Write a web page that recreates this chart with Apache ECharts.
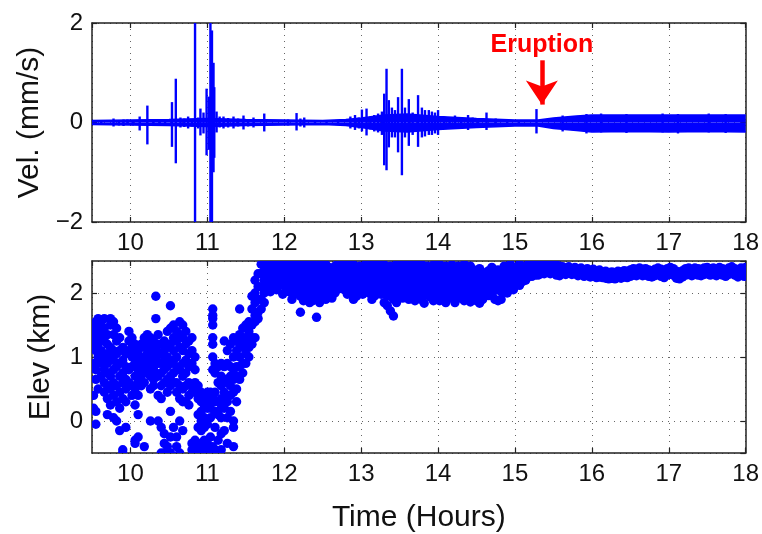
<!DOCTYPE html>
<html><head><meta charset="utf-8">
<script src="https://cdn.jsdelivr.net/npm/echarts@6/dist/echarts.min.js"></script>
<style>html,body{margin:0;padding:0;background:#fff}#c{width:762px;height:534px}</style>
</head><body><div id="c"></div>
<script>
// ---------- data ----------
const timeRange = [9.5, 18];
const velRange = [-2, 2];
const elevRange = [-0.5, 2.5];
const eruptionTime = 15.35;
const eruptionLabel = 'Eruption';
const xTitle = 'Time (Hours)';
const velTitle = 'Vel. (mm/s)';
const elevTitle = 'Elev (km)';

// background noise envelope of the velocity trace
const noiseT  = [9.5, 10.0, 10.5, 11.0, 11.5, 12.0, 12.5, 12.8, 13.0, 13.3, 13.6, 14.0, 14.5, 15.0, 15.3, 15.5, 15.8, 16.0, 16.5, 17.0, 17.5, 18.0];
const noiseHi = [0.04, 0.05, 0.06, 0.08, 0.06, 0.05, 0.04, 0.06, 0.09, 0.15, 0.17, 0.12, 0.08, 0.05, 0.05, 0.09, 0.13, 0.15, 0.15, 0.15, 0.15, 0.15];
const noiseLo = [-0.04, -0.05, -0.06, -0.08, -0.06, -0.05, -0.04, -0.06, -0.1, -0.17, -0.19, -0.14, -0.1, -0.07, -0.07, -0.12, -0.16, -0.19, -0.18, -0.19, -0.18, -0.19];

// velocity spikes: [time, max, min]
const velSpikes = [
  [9.62,0.05,-0.05],[9.78,0.08,-0.08],[9.85,0.05,-0.06],[9.91,0.06,-0.07],[9.96,0.06,-0.05],
  [10.03,0.05,-0.06],[10.12,0.12,-0.16],[10.22,0.34,-0.44],[10.30,0.06,-0.06],[10.38,0.05,-0.07],
  [10.45,0.06,-0.06],[10.54,0.41,-0.49],[10.59,0.88,-0.82],[10.65,0.10,-0.10],[10.70,0.08,-0.09],
  [10.75,0.12,-0.12],[10.80,0.06,-0.08],[10.84,2.5,-2.5],[10.88,0.10,-0.12],[10.91,0.28,-0.26],
  [10.95,0.20,-0.22],[10.99,0.68,-0.66],[11.02,0.52,-0.55],[11.04,2.5,-2.5],[11.06,1.85,-2.5],
  [11.08,1.2,-1.0],[11.09,0.71,-0.71],[11.12,0.22,-0.2],[11.16,0.12,-0.1],[11.21,0.12,-0.12],
  [11.27,0.09,-0.1],[11.34,0.12,-0.12],[11.40,0.08,-0.08],[11.47,0.14,-0.14],[11.53,0.07,-0.08],
  [11.60,0.10,-0.10],[11.74,0.18,-0.18],[12.05,0.06,-0.06],[12.16,0.19,-0.16],[12.21,0.08,-0.08],
  [12.26,0.10,-0.10],[12.40,0.05,-0.05],[12.55,0.05,-0.05],[12.70,0.05,-0.05],[12.86,0.12,-0.12],
  [12.92,0.15,-0.15],[12.97,0.10,-0.12],[13.01,0.26,-0.18],[13.07,0.28,-0.26],[13.12,0.12,-0.14],
  [13.17,0.15,-0.18],[13.22,0.18,-0.2],[13.27,0.22,-0.25],[13.30,0.58,-0.86],[13.33,1.08,-0.96],
  [13.36,0.45,-0.5],[13.40,0.3,-0.3],[13.44,0.25,-0.3],[13.48,0.51,-0.6],[13.53,1.08,-1.06],
  [13.57,0.3,-0.3],[13.62,0.47,-0.47],[13.67,0.2,-0.25],[13.74,0.55,-0.49],[13.79,0.3,-0.3],
  [13.83,0.25,-0.28],[13.88,0.25,-0.25],[13.92,0.22,-0.25],[13.96,0.2,-0.22],[14.00,0.25,-0.25],
  [14.08,0.12,-0.12],[14.15,0.1,-0.1],[14.22,0.14,-0.12],[14.30,0.1,-0.1],[14.39,0.15,-0.15],
  [14.45,0.1,-0.1],[14.52,0.08,-0.1],[14.63,0.2,-0.15],[14.75,0.08,-0.08],[14.90,0.06,-0.06],
  [15.05,0.05,-0.05],[15.28,0.27,-0.22],[15.62,0.14,-0.18],[15.93,0.17,-0.22],[16.12,0.18,-0.2],
  [16.45,0.17,-0.21],[16.92,0.18,-0.2],[17.12,0.17,-0.22],[17.52,0.18,-0.2],[17.74,0.17,-0.21]
];

// elevation points, as columns [time, elev, elev, ...]
const elevBefore = [
  [9.52,1.5,1.4,1.2,0.9,0.85,0.4,0.2],[9.55,1.55,1.45,1.3,1.1,0.8,0.65,0.15,-0.05],
  [9.58,1.6,1.5,1.35,1.2,1.0,0.5],[9.62,1.55,1.4,1.25,1.1,0.9,0.7],
  [9.66,1.6,1.45,1.3,1.0,0.8,0.6,0.45],[9.70,1.35,1.2,1.05,0.9,0.75,0.55,0.35,0.1],
  [9.74,1.6,1.5,1.15,1.0,0.7,0.5,0.25],[9.78,1.55,1.35,1.1,0.95,0.8,0.6,0.4,0.05],
  [9.82,1.45,1.25,1.05,0.85,0.55,0.3,0.0],[9.86,1.3,1.1,0.9,0.7,0.45,0.2,-0.15],
  [9.90,1.15,0.95,0.75,0.6,0.35,-0.45,-0.5],[9.94,1.05,0.85,0.65,0.5,0.3,-0.1],
  [9.98,1.4,1.25,1.1,0.8,0.6],[10.02,1.3,1.15,1.0,0.85,0.55,0.4],
  [10.06,1.2,1.05,0.9,0.7,0.5,0.25,-0.3,-0.35],[10.10,1.1,0.95,0.8,0.6,0.4,0.1,-0.25],
  [10.14,1.2,1.0,0.85,0.7,0.55],[10.18,1.3,1.15,0.95,0.8,0.6,-0.4],
  [10.22,1.35,1.2,1.05,0.9,0.75],[10.26,1.3,1.15,1.0,0.85,0.7,0.5,0.0],
  [10.30,1.25,1.1,0.95,0.8,0.65,0.55],[10.33,1.95,1.6,1.15,1.0,0.9,0.75],
  [10.36,1.35,1.2,1.05,0.9,0.7,0.4,0.0],[10.40,1.2,1.05,0.9,0.75,0.55,0.35,-0.1,-0.5],
  [10.44,1.25,1.1,0.95,0.8,0.6,-0.2,-0.35,-0.5],[10.48,1.4,1.15,1.0,0.85,0.65,0.45,-0.4,-0.5],
  [10.52,1.8,1.45,1.2,0.9,0.7,0.55,0.15,-0.25,-0.5],[10.56,1.5,1.3,1.1,0.95,0.75,0.6,-0.1],
  [10.60,1.4,1.25,1.0,0.85,0.6,0.45,-0.25,-0.4],[10.64,1.55,1.35,1.15,0.8,0.55,0.35,0.0,-0.5],
  [10.68,1.5,1.3,1.1,0.9,0.7,0.5,0.3,-0.15],[10.72,1.4,1.2,0.95,0.75,0.55,0.3],
  [10.76,1.25,1.05,0.85,0.6,0.4,0.25],[10.80,1.3,1.1,0.9,0.55,0.45,-0.35,-0.45],
  [10.84,1.0,0.8,0.6,0.45,-0.3,-0.4,-0.5],[10.88,0.55,0.35,0.1,-0.1,-0.35,-0.5],
  [10.92,0.45,0.3,0.15,0.0,-0.15,-0.4,-0.5],[10.96,0.4,0.25,0.05,-0.1,-0.3,-0.45],
  [11.00,0.45,0.3,0.2,-0.05,-0.35,-0.5],[11.04,0.45,0.35,0.2,0.05,-0.25,-0.45,-0.5],
  [11.07,1.75,1.65,1.6,1.5,1.3,1.2,1.0,0.8,0.4,-0.4,-0.5],[11.10,0.9,0.75,0.45,0.3,0.15,-0.1,-0.45],
  [11.14,0.85,0.6,0.3,0.1,-0.3,-0.5],[11.18,0.9,0.7,0.55,0.35,0.2,0.05,-0.2,-0.45],
  [11.22,1.25,0.85,0.65,0.45,0.3,0.2,-0.15],[11.26,1.1,0.9,0.6,0.4,0.3,0.05,-0.35],
  [11.30,1.2,0.85,0.7,0.55,0.4,0.15],[11.34,1.3,1.0,0.8,0.65,0.45,0.0,-0.1,-0.4],
  [11.38,1.25,1.1,0.85,0.7,0.5,0.3]
];
const elevRise = [
  [11.42,1.75,1.35,1.2,1.0,0.85,0.65],[11.46,1.45,1.3,1.15,0.9,0.75],
  [11.50,1.5,1.3,1.2,1.05,0.9],[11.54,1.55,1.4,1.25,1.15,1.0],
  [11.58,1.95,1.75,1.5,1.3,1.2],[11.62,2.2,2.0,1.85,1.65,1.55,1.3],
  [11.66,2.3,2.1,1.9,1.7,1.6],[11.70,2.45,2.3,2.1,1.9,1.75],
  [11.74,2.47,2.35,2.2,2.0,1.85],[11.78,2.45,2.35,2.25,2.1]
];
const elevPlume = [
  [11.82,2.47,2.38,2.28,2.15,2.02],[11.86,2.45,2.35,2.25,2.1],[11.90,2.47,2.4,2.3,2.2,2.05],
  [11.94,2.42,2.33,2.22,2.12],[11.98,2.47,2.36,2.26,2.16,1.98],[12.02,2.44,2.32,2.2,2.08],
  [12.06,2.47,2.38,2.28,2.14,2.02],[12.10,2.42,2.3,2.2,2.05,1.9],[12.14,2.46,2.35,2.22,2.1,1.98],
  [12.18,2.4,2.28,2.15,2.02],[12.21,2.44,2.3,2.12,1.95,1.7],[12.25,2.38,2.25,2.1,1.98,1.88],
  [12.29,2.45,2.32,2.18,2.05,1.92],[12.33,2.4,2.27,2.1,1.95,1.85],[12.37,2.46,2.3,2.15,2.0,1.88],
  [12.42,2.35,2.2,2.05,1.9,1.62],[12.46,2.44,2.28,2.12,1.98,1.85],[12.50,2.38,2.22,2.08,1.95],
  [12.54,2.45,2.32,2.18,2.02,1.9],[12.58,2.4,2.25,2.12,1.98],[12.62,2.3,2.16,2.04,1.92],
  [12.66,2.42,2.28,2.12,2.0],[12.70,2.47,2.35,2.2,2.06],[12.74,2.47,2.4,2.26,2.12],
  [12.78,2.45,2.32,2.18,2.05],[12.82,2.47,2.36,2.22,2.1,1.98],[12.86,2.4,2.28,2.15,2.0],
  [12.90,2.44,2.32,2.18,2.05,1.9],[12.94,2.36,2.22,2.1,1.95],[12.98,2.42,2.3,2.16,2.02],
  [13.02,2.38,2.25,2.12,1.98],[13.06,2.45,2.32,2.2,2.06],[13.10,2.4,2.28,2.14,2.0],
  [13.14,2.44,2.3,2.18,2.04,1.9],[13.18,2.36,2.22,2.1,1.96],[13.22,2.47,2.32,2.18,2.05],
  [13.26,2.4,2.26,2.12,1.98],[13.30,2.44,2.3,2.15,2.0,1.85],[13.34,2.38,2.24,2.1,1.95,1.8],
  [13.38,2.42,2.28,2.12,1.98,1.72],[13.42,2.35,2.2,2.05,1.9,1.64],[13.46,2.45,2.3,2.15,2.0,1.85],
  [13.50,2.4,2.26,2.1,1.96],[13.54,2.47,2.34,2.2,2.05,1.92],[13.58,2.42,2.28,2.12,1.98],
  [13.62,2.45,2.3,2.16,2.02,1.9],[13.66,2.38,2.24,2.1,1.96],[13.70,2.44,2.3,2.15,2.02,1.88],
  [13.74,2.4,2.26,2.12,1.98],[13.78,2.46,2.32,2.18,2.04,1.9],[13.82,2.38,2.24,2.1,1.96,1.84],
  [13.86,2.42,2.28,2.14,2.0],[13.90,2.36,2.22,2.08,1.94],[13.94,2.44,2.3,2.16,2.02,1.88],
  [13.98,2.4,2.25,2.1,1.95],[14.02,2.45,2.3,2.15,2.0,1.88],[14.06,2.38,2.24,2.1,1.96],
  [14.10,2.42,2.28,2.14,2.0,1.85],[14.14,2.36,2.2,2.06,1.92],[14.18,2.44,2.3,2.16,2.02],
  [14.22,2.38,2.24,2.1,1.96,1.85],[14.26,2.42,2.27,2.12,1.98],[14.30,2.35,2.2,2.06,1.92],
  [14.34,2.45,2.3,2.15,2.0,1.88],[14.38,2.38,2.24,2.1,1.95],[14.42,2.42,2.28,2.12,1.98,1.86],
  [14.46,2.36,2.22,2.08,1.94],[14.50,2.3,2.16,2.02,1.88],[14.54,2.38,2.24,2.1,1.96,1.84],
  [14.58,2.32,2.18,2.04,1.9],[14.62,2.28,2.15,2.02],[14.66,2.35,2.2,2.08,1.96],
  [14.70,2.4,2.26,2.12,2.0],[14.74,2.32,2.18,2.04,1.9],[14.78,2.36,2.22,2.08,1.88],
  [14.82,2.3,2.16,2.02,1.9],[14.86,2.42,2.28,2.14,2.02],[14.90,2.38,2.25,2.12,2.0],
  [14.94,2.45,2.3,2.16,2.06],[14.98,2.4,2.28,2.15,2.05],[15.02,2.38,2.26,2.14],
  [15.06,2.45,2.32,2.2,2.12],[15.10,2.42,2.3,2.18],[15.14,2.4,2.3,2.2],
  [15.18,2.46,2.36,2.26],[15.22,2.42,2.34,2.26],[15.26,2.47,2.38,2.28],
  [15.30,2.44,2.36,2.28],[15.34,2.47,2.4,2.3],[15.38,2.46,2.38,2.3],
  [15.42,2.47,2.4,2.32],[15.46,2.45,2.38,2.3],[15.50,2.47,2.4,2.32],
  [15.54,2.44,2.36,2.28],[15.58,2.42,2.35,2.27]
];
const elevAfter = [
  [15.62,2.41,2.31],[15.66,2.39,2.29],[15.70,2.41,2.32],[15.74,2.38,2.29],[15.78,2.4,2.3],
  [15.82,2.37,2.27],[15.86,2.39,2.29],[15.90,2.36,2.26],[15.94,2.38,2.28],[15.98,2.35,2.25],
  [16.02,2.37,2.27],[16.06,2.34,2.24],[16.10,2.36,2.25],[16.14,2.33,2.24],[16.18,2.34,2.23],
  [16.22,2.32,2.22],[16.26,2.33,2.23],[16.30,2.32,2.22],[16.34,2.34,2.24],[16.38,2.33,2.23],
  [16.42,2.35,2.25],[16.46,2.34,2.24],[16.50,2.36,2.26],[16.54,2.38,2.28],[16.58,2.37,2.27],
  [16.62,2.39,2.29],[16.66,2.37,2.27],[16.70,2.38,2.28],[16.74,2.36,2.26],[16.78,2.35,2.25],
  [16.82,2.37,2.27],[16.86,2.39,2.29],[16.90,2.37,2.26],[16.94,2.35,2.24],[16.98,2.38,2.28],
  [17.02,2.4,2.3],[17.06,2.38,2.28],[17.10,2.34,2.23],[17.14,2.32,2.22],[17.18,2.35,2.25],
  [17.22,2.38,2.28],[17.26,2.39,2.29],[17.30,2.37,2.27],[17.34,2.39,2.29],[17.38,2.38,2.28],
  [17.42,2.37,2.27],[17.46,2.39,2.29],[17.50,2.4,2.3],[17.54,2.38,2.28],[17.58,2.39,2.29],
  [17.62,2.37,2.27],[17.66,2.4,2.3],[17.70,2.38,2.28],[17.74,2.36,2.26],[17.78,2.39,2.29],
  [17.82,2.41,2.31],[17.86,2.38,2.28],[17.90,2.36,2.25],[17.94,2.39,2.29],[17.98,2.37,2.26],
  [18.00,2.4,2.29]
];

// ---------- build ----------
function flatten(cols){ const out=[]; cols.forEach(c=>{ for(let i=1;i<c.length;i++) out.push([c[0], c[i]]); }); return out; }
const elevPoints = [].concat(flatten(elevBefore), flatten(elevRise), flatten(elevPlume), flatten(elevAfter));

const FONT = '"Liberation Sans", Arial, Helvetica, sans-serif';
const BLUE = '#0000ff';
const AX = '#222';
const minus = v => String(v).replace('-', '\u2212');
const gridLine = { show: true, lineStyle: { color: '#666', type: [1, 5], width: 1 } };

function xAx(grid, pos, main){
  return {
    type:'value', gridIndex: grid, position: pos, min: timeRange[0], max: timeRange[1],
    splitNumber: 8, minInterval: 1, maxInterval: 1,
    axisLine: { show: true, onZero: false, lineStyle: { color: AX, width: 1.5 } },
    axisTick: { show: true, inside: true, length: 5, lineStyle: { color: AX, width: 1.2 } },
    axisLabel: { show: main, showMinLabel: false, margin: 9, color: '#111', fontSize: 24, fontFamily: FONT, formatter: minus },
    splitLine: main ? gridLine : { show: false },
    name: (main && grid === 1) ? xTitle : '', nameLocation: 'middle', nameGap: 50,
    nameTextStyle: { fontSize: 30, fontFamily: FONT, color: '#111' }
  };
}
function yAx(grid, pos, main, range, split, title, gap){
  return {
    type:'value', gridIndex: grid, position: pos, min: range[0], max: range[1],
    splitNumber: split, minInterval: split === 2 ? 2 : 1, maxInterval: split === 2 ? 2 : 1,
    axisLine: { show: true, onZero: false, lineStyle: { color: AX, width: 1.5 } },
    axisTick: { show: true, inside: true, length: 5, lineStyle: { color: AX, width: 1.2 } },
    axisLabel: { show: main, showMinLabel: grid === 0, showMaxLabel: grid === 0, margin: 9, color: '#111', fontSize: 24, fontFamily: FONT, formatter: minus },
    splitLine: main ? gridLine : { show: false },
    name: main ? title : '', nameLocation: 'middle', nameGap: gap,
    nameTextStyle: { fontSize: 30, fontFamily: FONT, color: '#111' }
  };
}

const option = {
  backgroundColor: '#fff',
  animation: false,
  grid: [
    { left: 92, right: 16, top: 23, height: 199 },
    { left: 92, right: 16, top: 261, height: 201 }
  ],
  xAxis: [ xAx(0,'bottom',true), xAx(0,'top',false), xAx(1,'bottom',true), xAx(1,'top',false) ],
  yAxis: [
    yAx(0,'left',true, velRange, 2, velTitle, 46),
    yAx(0,'right',false, velRange, 2, '', 0),
    yAx(1,'left',true, elevRange, 3, elevTitle, 36),
    yAx(1,'right',false, elevRange, 3, '', 0)
  ],
  series: [
    { type:'line', xAxisIndex:0, yAxisIndex:0, symbol:'none', silent:true,
      data: noiseT.map((t,i)=>[t, noiseHi[i]]),
      lineStyle:{ color: BLUE, width: 1.5 }, areaStyle:{ color: BLUE, opacity: 1 } },
    { type:'line', xAxisIndex:0, yAxisIndex:0, symbol:'none', silent:true,
      data: noiseT.map((t,i)=>[t, noiseLo[i]]),
      lineStyle:{ color: BLUE, width: 1.5 }, areaStyle:{ color: BLUE, opacity: 1 } },
    { type:'custom', xAxisIndex:0, yAxisIndex:0, clip: true, silent:true,
      data: velSpikes, encode: { x: 0, y: [1, 2] },
      renderItem: function(params, api){
        const t = api.value(0);
        const a = api.coord([t, api.value(1)]);
        const b = api.coord([t, api.value(2)]);
        return { type:'line', shape:{ x1:a[0], y1:a[1], x2:b[0], y2:b[1] }, style:{ stroke: BLUE, lineWidth: 2.4 } };
      },
      markLine: {
        silent: true, symbol: ['none','arrow'], symbolSize: 24,
        label: { show: false },
        lineStyle: { color: '#ff0000', width: 4.5, type: 'solid' },
        data: [[ { coord: [eruptionTime, 1.25] }, { coord: [eruptionTime, 0.36] } ]]
      },
      markPoint: {
        silent: true, symbol: 'circle', symbolSize: 0,
        label: { show: true, formatter: eruptionLabel, color: '#ff0000', fontWeight: 'bold', fontSize: 25, fontFamily: FONT },
        data: [ { coord: [eruptionTime, 1.55] } ]
      }
    },
    { type:'custom', xAxisIndex:2, yAxisIndex:2, clip: true, silent:true,
      data: elevPoints, encode: { x: 0, y: 1 },
      renderItem: function(params, api){
        const p = api.coord([api.value(0), api.value(1)]);
        return { type:'circle', shape:{ cx:p[0], cy:p[1], r:4.7 }, style:{ fill: BLUE } };
      }
    }
  ]
};
const chart = echarts.init(document.getElementById('c'), null, { renderer: 'canvas' });
chart.setOption(option);
</script></body></html>
